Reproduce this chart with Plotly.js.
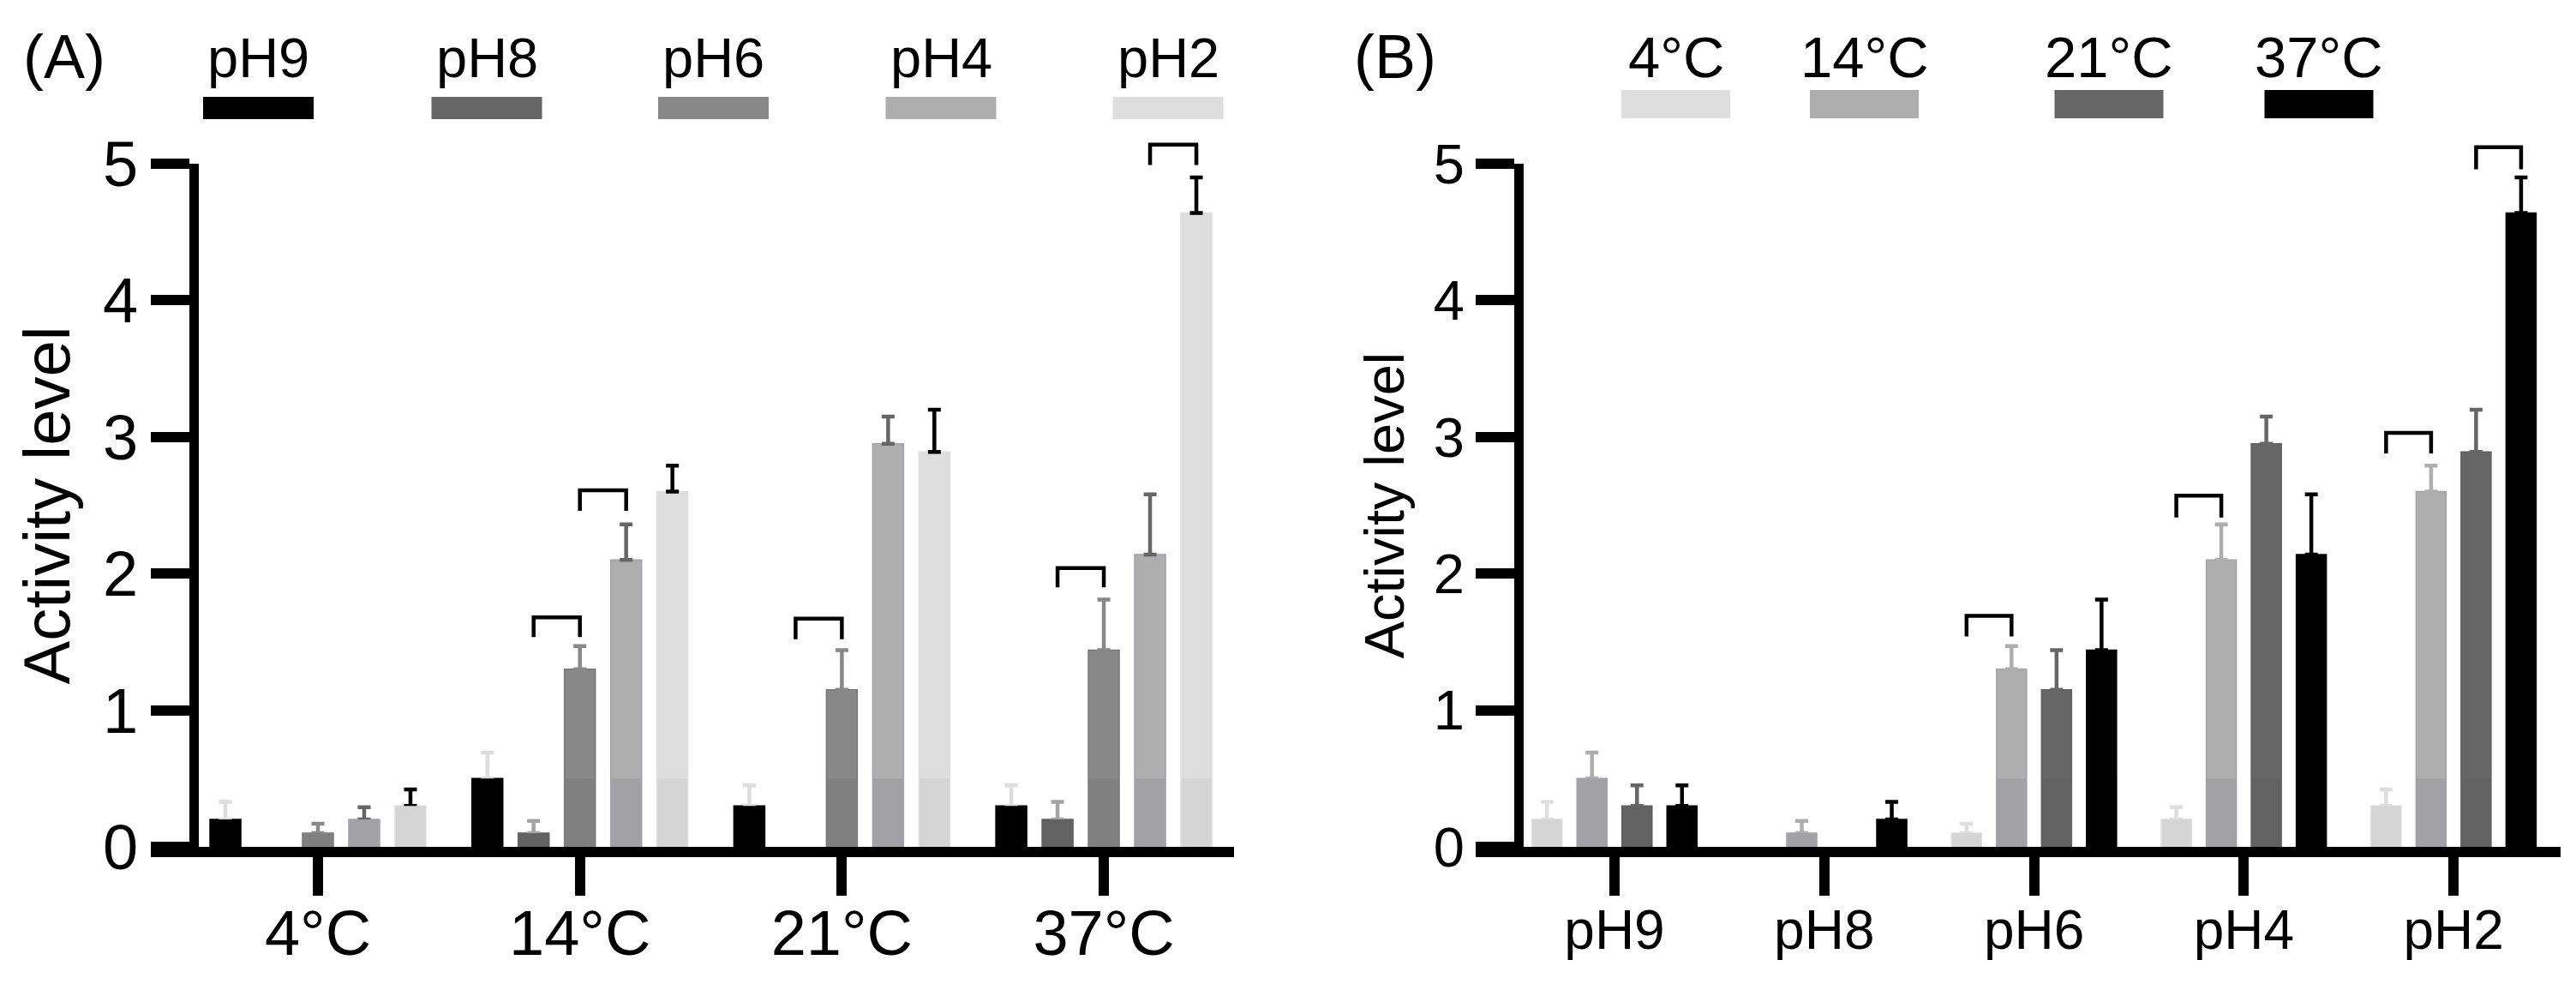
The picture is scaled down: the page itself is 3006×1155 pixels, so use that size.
<!DOCTYPE html>
<html>
<head>
<meta charset="utf-8">
<script src="https://cdn.plot.ly/plotly-3.0.1.min.js"></script>
<style>
  html, body { margin: 0; padding: 0; background: #fff; }
  #chart { width: 3006px; height: 1155px; }
</style>
</head>
<body>
<div id="chart"></div>
<script>
const temps = ['4°C', '14°C', '21°C', '37°C'];
const phs = ['pH9', 'pH8', 'pH6', 'pH4', 'pH2'];

// activity level per pH, one value per temperature (4, 14, 21, 37 °C)
const pH9 = [0.2, 0.5, 0.3, 0.3];
const pH8 = [0, 0.1, 0, 0.2];
const pH6 = [0.1, 1.3, 1.15, 1.44];
const pH4 = [0.2, 2.1, 2.95, 2.14];
const pH2 = [0.3, 2.6, 2.89, 4.64];

// upper error bars
const pH9_err = [0.13, 0.19, 0.15, 0.15];
const pH8_err = [null, 0.09, null, 0.13];
const pH6_err = [0.07, 0.17, 0.29, 0.37];
const pH4_err = [0.09, 0.26, 0.2, 0.44];
const pH2_err = [0.12, 0.19, 0.31, 0.26];

// brackets: [category, from bar, to bar, top, bottom of legs]
const bracketsA = [[1, 1, 2, 1.68, 1.535], [1, 2, 3, 2.61, 2.46], [2, 1, 2, 1.67, 1.52],
                   [3, 1, 2, 2.04, 1.90], [3, 3, 4, 5.14, 4.99]];
const bracketsB = [[2, 0, 1, 1.69, 1.54], [3, 0, 1, 2.57, 2.41], [4, 0, 1, 3.03, 2.88],
                   [4, 2, 3, 5.12, 4.96]];

const values = [pH9, pH8, pH6, pH4, pH2];
const errors = [pH9_err, pH8_err, pH6_err, pH4_err, pH2_err];

const phColors = ['#000000', '#666666', '#888888', '#aeaeae', '#dedede'];
const phLower  = ['#000000', '#626262', '#808080', '#a2a2a6', '#d5d5d5'];
const phEdge   = ['#000000', '#5e5e5e', '#777777', '#a0a0ae', '#dedede'];
const phErrCol = ['#dddddd', '#a3a3a8', '#888888', '#666666', '#000000'];
const tColors  = ['#dedede', '#aeaeae', '#666666', '#000000'];
const tLower   = ['#d5d5d5', '#a2a2a6', '#626262', '#000000'];
const tEdge    = ['#dedede', '#a0a0ae', '#5e5e5e', '#000000'];

const W = 3006, H = 1155;
function px(x) { return x / W; }
function py(y) { return 1 - y / H; }
const yDom = [py(988), py(191)];
function yPaper(v) { return yDom[0] + v / 5 * (yDom[1] - yDom[0]); }

const FONT = 'Arial, "Liberation Sans", sans-serif';
const slotA = 0.1766, barA = 0.1178;
const slotB = 0.2145, barB = 0.143;

const data = [];
function addBars(x, y, err, n, i, slot, bw, col, low, edge, ecol, xa, ya) {
  const off = (i - (n - 1) / 2) * slot - bw / 2;
  data.push({
    type: 'bar', x: x, y: y, xaxis: xa, yaxis: ya,
    width: bw, offset: off, showlegend: false, hoverinfo: 'skip',
    marker: {color: col, line: {color: edge, width: y.map(v => v > 0 ? 1.5 : 0)}},
    error_y: {type: 'data', symmetric: false,
              array: err.map(e => e === null ? NaN : e),
              arrayminus: err.map(e => e === null ? NaN : 0),
              color: ecol, thickness: 4.5, width: 7.5}
  });
  // slightly darker band on the lower part of each bar
  data.push({
    type: 'bar', x: x, y: y.map(v => Math.min(v, 0.5)), xaxis: xa, yaxis: ya,
    width: bw - 0.004, offset: off + 0.002, showlegend: false, hoverinfo: 'skip',
    marker: {color: low, line: {width: 0}}
  });
}

// panel A: grouped by temperature, one bar per pH
for (let i = 0; i < 5; i++) {
  addBars(temps, values[i], errors[i], 5, i, slotA, barA,
          phColors[i], phLower[i], phEdge[i], phErrCol[i], 'x', 'y');
}
// panel B: grouped by pH, one bar per temperature
for (let t = 0; t < 4; t++) {
  addBars(phs, values.map(v => v[t]), errors.map(e => e[t]), 4, t, slotB, barB,
          tColors[t], tLower[t], tEdge[t], tColors[t], 'x2', 'y2');
}

const shapes = [];
function addBrackets(list, n, slot, xref) {
  list.forEach(b => {
    const x0 = b[0] + (b[1] - (n - 1) / 2) * slot;
    const x1 = b[0] + (b[2] - (n - 1) / 2) * slot;
    const yt = yPaper(b[3]), yb = yPaper(b[4]);
    shapes.push({type: 'path', xref: xref, yref: 'paper',
      path: `M${x0},${yb} L${x0},${yt} L${x1},${yt} L${x1},${yb}`,
      line: {color: '#000', width: 4.5}});
  });
}
addBrackets(bracketsA, 5, slotA, 'x');
addBrackets(bracketsB, 4, slotB, 'x2');

// x axis line carried on under the y ticks
[[176, 232], [1722, 1778]].forEach(s => {
  shapes.push({type: 'line', xref: 'paper', yref: 'paper', x0: px(s[0]), x1: px(s[1]),
    y0: py(994), y1: py(994), line: {color: '#000', width: 12}});
});

const annotations = [];
// legend A
const legA = [301.5, 568, 832.5, 1098, 1363];
phs.forEach((p, i) => {
  shapes.push({type: 'rect', xref: 'paper', yref: 'paper',
    x0: px(legA[i] - 64.5), x1: px(legA[i] + 64.5), y0: py(139), y1: py(113),
    fillcolor: phColors[i], line: {width: 0}});
  annotations.push({xref: 'paper', yref: 'paper', x: px(legA[i]), y: py(106),
    xanchor: 'center', yanchor: 'bottom', showarrow: false, text: p,
    font: {family: FONT, size: 65, color: '#000'}});
});
// legend B
const legB = [1955.5, 2175.5, 2461, 2706];
temps.forEach((t, i) => {
  shapes.push({type: 'rect', xref: 'paper', yref: 'paper',
    x0: px(legB[i] - 63.5), x1: px(legB[i] + 63.5), y0: py(138), y1: py(105),
    fillcolor: tColors[i], line: {width: 0}});
  annotations.push({xref: 'paper', yref: 'paper', x: px(legB[i]), y: py(106),
    xanchor: 'center', yanchor: 'bottom', showarrow: false, text: t,
    font: {family: FONT, size: 67, color: '#000'}});
});
annotations.push({xref: 'paper', yref: 'paper', x: px(75), y: py(66), xanchor: 'center',
  yanchor: 'middle', showarrow: false, text: '(A)', font: {family: FONT, size: 72, color: '#000'}});
annotations.push({xref: 'paper', yref: 'paper', x: px(1628), y: py(66), xanchor: 'center',
  yanchor: 'middle', showarrow: false, text: '(B)', font: {family: FONT, size: 72, color: '#000'}});

function xAxis(dom, range, fs, anchor, standoff) {
  return {domain: dom, range: range, type: 'category', anchor: anchor,
    showline: true, linewidth: 12, linecolor: '#000', showgrid: false, zeroline: false,
    ticks: 'outside', ticklen: 45, tickwidth: 12, tickcolor: '#000', ticklabelstandoff: standoff,
    tickfont: {family: FONT, size: fs, color: '#000'}};
}
function yAxis(anchor, fs, tfs, standoff) {
  return {domain: yDom, range: [0, 5], anchor: anchor,
    showline: true, linewidth: 11, linecolor: '#000', showgrid: false, zeroline: false,
    tickvals: [0, 1, 2, 3, 4, 5], ticks: 'outside', ticklen: 45, tickwidth: 12, tickcolor: '#000',
    tickfont: {family: FONT, size: fs, color: '#000'},
    title: {text: 'Activity level', standoff: standoff, font: {family: FONT, size: tfs, color: '#000'}}};
}

const layout = {
  width: W, height: H,
  margin: {l: 0, r: 0, t: 0, b: 0},
  paper_bgcolor: '#fff', plot_bgcolor: 'rgba(0,0,0,0)',
  barmode: 'group',
  showlegend: false,
  xaxis: xAxis([px(232), px(1440)], [-0.4547, 3.497], 74, 'y', -20),
  yaxis: yAxis('x', 74, 76, 18),
  xaxis2: xAxis([px(1778), px(2988)], [-0.433, 4.51], 64, 'y2', -15),
  yaxis2: yAxis('x2', 65, 65, 18),
  shapes: shapes,
  annotations: annotations,
  font: {family: FONT, color: '#000'}
};

Plotly.newPlot('chart', data, layout, {staticPlot: true});
</script>
</body>
</html>
